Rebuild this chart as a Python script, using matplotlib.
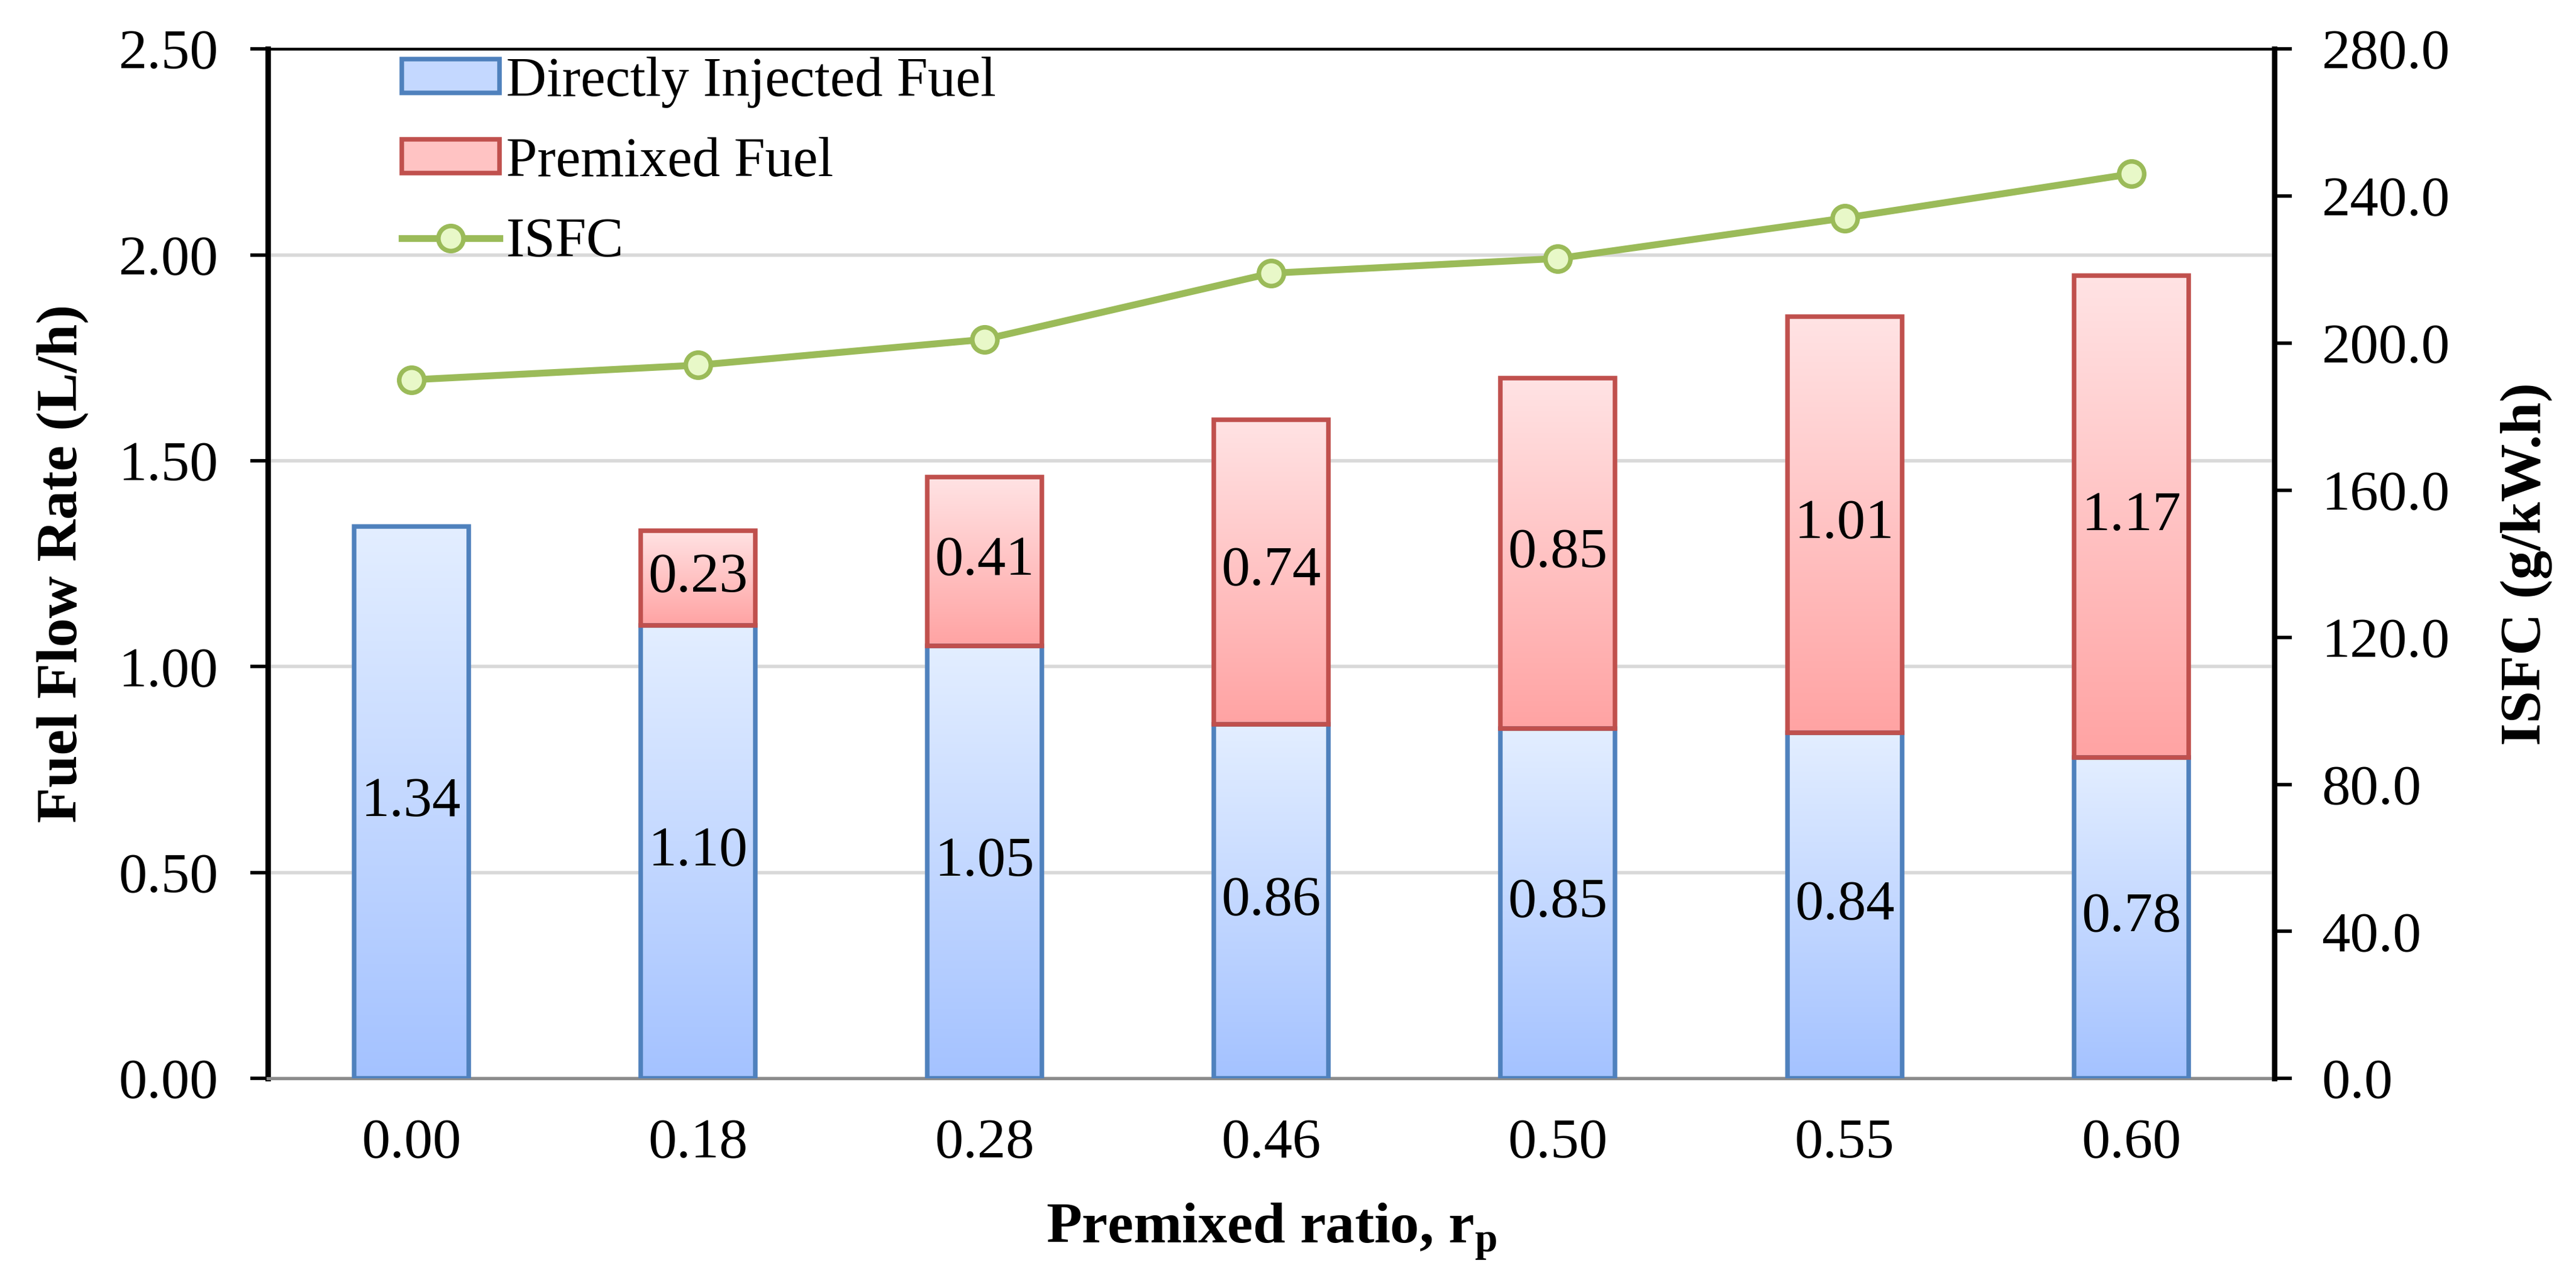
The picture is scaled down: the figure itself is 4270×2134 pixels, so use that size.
import numpy as np
import matplotlib
matplotlib.use('Agg')
import matplotlib.pyplot as plt
from matplotlib.colors import LinearSegmentedColormap
from matplotlib.patches import Patch
from matplotlib.lines import Line2D

plt.rcParams['font.family'] = ['Liberation Serif', 'DejaVu Serif']
plt.rcParams['mathtext.fontset'] = 'custom'
plt.rcParams['mathtext.rm'] = 'Liberation Serif'
plt.rcParams['mathtext.bf'] = 'Liberation Serif:bold'

ratios = ['0.00', '0.18', '0.28', '0.46', '0.50', '0.55', '0.60']
direct_fuel = [1.34, 1.10, 1.05, 0.86, 0.85, 0.84, 0.78]
premixed_fuel = [0.00, 0.23, 0.41, 0.74, 0.85, 1.01, 1.17]
isfc = [190.0, 194.0, 201.0, 219.0, 223.0, 234.0, 246.0]

blue_edge = '#4F81BD'
red_edge = '#C0504D'
green = '#9BBB59'
blue_cmap = LinearSegmentedColormap.from_list('b', ['#A4C2FF', '#E3EEFF'])
red_cmap = LinearSegmentedColormap.from_list('r', ['#FFA3A3', '#FFE3E4'])
grad = np.linspace(0, 1, 256).reshape(-1, 1)

FS = 25

fig = plt.figure(figsize=(4270 / 272, 2134 / 272), dpi=272)
ax = fig.add_axes([0.104, 0.162, 0.779, 0.800])
x = np.arange(len(ratios))
w = 0.4


def gradient_bar(ax, xc, bottom, height, cmap, edge):
    if height <= 0:
        return
    ax.imshow(grad, cmap=cmap, origin='lower', aspect='auto', zorder=2,
              extent=(xc - w / 2, xc + w / 2, bottom, bottom + height))
    ax.bar(xc, height, w, bottom=bottom, facecolor='none', edgecolor=edge,
           linewidth=2.0, zorder=3)


for i in range(len(ratios)):
    gradient_bar(ax, x[i], 0, direct_fuel[i], blue_cmap, blue_edge)
    gradient_bar(ax, x[i], direct_fuel[i], premixed_fuel[i], red_cmap, red_edge)
    ax.text(x[i], direct_fuel[i] / 2, '%.2f' % direct_fuel[i], ha='center',
            va='center', fontsize=FS, zorder=4)
    if premixed_fuel[i] > 0:
        ax.text(x[i], direct_fuel[i] + premixed_fuel[i] / 2, '%.2f' % premixed_fuel[i],
                ha='center', va='center', fontsize=FS, zorder=4)

ax.set_xlim(-0.5, len(ratios) - 0.5)
ax.set_ylim(0, 2.5)
ax.set_yticks(np.arange(0, 2.51, 0.5))
ax.set_yticklabels(['%.2f' % v for v in np.arange(0, 2.51, 0.5)])
ax.set_xticks(x)
ax.set_xticklabels(ratios)
ax.yaxis.grid(True, color='#D9D9D9', linewidth=1.5)
ax.set_axisbelow(True)
ax.tick_params(axis='x', length=0, labelsize=FS, pad=17.5)
ax.tick_params(axis='y', length=7.7, width=1.5, labelsize=FS, pad=14)
ax.spines['left'].set_linewidth(2.4)
ax.spines['top'].set_linewidth(1.2)
ax.spines['bottom'].set_color('#8C8C8C')
ax.spines['bottom'].set_linewidth(1.4)
ax.spines['right'].set_visible(False)
ax.set_xlabel('Premixed ratio, r$_{\\mathbf{p}}$', fontsize=FS + 0.5, fontweight='bold', labelpad=14)
ax.set_ylabel('Fuel Flow Rate (L/h)', fontsize=FS + 0.5, fontweight='bold', labelpad=13)

ax2 = ax.twinx()
ax2.plot(x, isfc, color=green, linewidth=3, marker='o', markersize=11,
         markerfacecolor='#E8F8C8', markeredgecolor=green, markeredgewidth=2, zorder=5)
ax2.set_ylim(0, 280)
ax2.set_yticks(np.arange(0, 281, 40))
ax2.set_yticklabels(['%.1f' % v for v in np.arange(0, 281, 40)])
ax2.tick_params(axis='y', length=7.7, width=1.5, labelsize=FS, pad=13)
ax2.spines['right'].set_linewidth(2.4)
ax2.spines['top'].set_visible(False)
ax2.spines['left'].set_visible(False)
ax2.spines['bottom'].set_visible(False)
ax2.set_ylabel('ISFC (g/kW.h)', fontsize=FS + 0.5, fontweight='bold', labelpad=22)

handles = [Patch(facecolor='#C4D8FF', edgecolor=blue_edge, linewidth=2),
           Patch(facecolor='#FFC3C3', edgecolor=red_edge, linewidth=2),
           Line2D([], [], color=green, linewidth=3, marker='o', markersize=11,
                  markerfacecolor='#E8F8C8', markeredgecolor=green, markeredgewidth=2)]
ax2.legend(handles, ['Directly Injected Fuel', 'Premixed Fuel', 'ISFC'], loc='upper left',
           bbox_to_anchor=(0.050, 1.025), frameon=False, fontsize=FS - 0.5, handlelength=1.75,
           handleheight=0.55, labelspacing=0.52, handletextpad=0.12, borderaxespad=0.2)

fig.savefig('out.png')
